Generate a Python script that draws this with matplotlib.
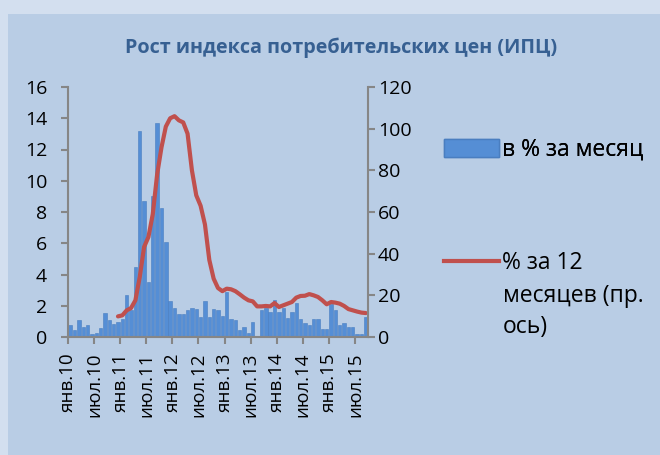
import matplotlib.pyplot as plt
from matplotlib.patches import Rectangle
from matplotlib.lines import Line2D

plt.rcParams['font.family'] = ['Open Sans', 'DejaVu Sans']

# в % за месяц, янв.10 ... сен.15
mes_2010 = [0.75, 0.43, 1.1, 0.64, 0.75, 0.17, 0.26, 0.55, 1.56, 1.1, 0.85, 0.96]
mes_2011 = [1.17, 2.7, 1.7, 4.5, 13.2, 8.7, 3.5, 9.0, 13.7, 8.25, 6.1, 2.3]
mes_2012 = [1.88, 1.5, 1.5, 1.7, 1.88, 1.8, 1.28, 2.3, 1.28, 1.8, 1.7, 1.36]
mes_2013 = [2.9, 1.15, 1.07, 0.47, 0.64, 0.26, 0.96, 0.09, 1.7, 1.85, 1.58, 2.35]
mes_2014 = [1.58, 1.85, 1.24, 1.58, 2.17, 1.15, 0.87, 0.75, 1.15, 1.15, 0.53, 0.53]
mes_2015 = [2.1, 1.7, 0.75, 0.87, 0.64, 0.64, 0.17, 0.17, 1.28]
mensal = mes_2010 + mes_2011 + mes_2012 + mes_2013 + mes_2014 + mes_2015

# % за 12 месяцев, дек.10 ... сен.15
ano_2010 = [9.9]
ano_2011 = [10.4, 12.8, 13.9, 17.6, 28.8, 43.2, 48, 59, 78, 91, 101, 105]
ano_2012 = [106, 104, 103, 97.6, 80, 68, 63, 54, 37, 28, 23.5, 22]
ano_2013 = [23.2, 22.9, 22, 20.5, 18.9, 17.6, 17.1, 14.7, 14.7, 14.9, 14.7, 16.3]
ano_2014 = [14.4, 15.2, 16, 16.8, 18.9, 19.7, 19.8, 20.6, 20, 19.2, 17.6, 15.7]
ano_2015 = [16.8, 16.5, 16, 14.9, 13.4, 12.8, 12.2, 11.7, 11.5]
anual = ano_2010 + ano_2011 + ano_2012 + ano_2013 + ano_2014 + ano_2015

rotulos = ['янв.10', 'июл.10', 'янв.11', 'июл.11', 'янв.12', 'июл.12',
           'янв.13', 'июл.13', 'янв.14', 'июл.14', 'янв.15', 'июл.15']

cor_barra = '#558ED5'
cor_linha = '#C0504D'
cinza = '#868686'

fig = plt.figure(figsize=(6.6, 4.55), dpi=100, facecolor='#D3DFEF')
fig.add_artist(Rectangle((8 / 660, 0), 1, 1 - 14 / 455, transform=fig.transFigure,
                         facecolor='#B9CDE5', edgecolor='none', zorder=0))

ax = fig.add_axes([68 / 660, 118 / 455, 300 / 660, 250 / 455])
ax.set_facecolor('none')
x_mes = list(range(len(mensal)))
ax.bar(x_mes, mensal, width=0.78, color=cor_barra, edgecolor='#4A7EC0', linewidth=0.4)
ax.set_xlim(-0.5, len(mensal) - 0.5)
ax.set_ylim(0, 16)
ax.set_yticks(range(0, 17, 2))
ax.set_xticks([i * 6 - 0.5 for i in range(len(rotulos))])
ax.set_xticklabels(rotulos, rotation=90, fontsize=13.5)

ax2 = ax.twinx()
x_ano = list(range(len(mensal) - len(anual), len(mensal)))
ax2.plot(x_ano, anual, color=cor_linha, linewidth=3, solid_capstyle='round')
ax2.set_ylim(0, 120)
ax2.set_yticks(range(0, 121, 20))

for a in (ax, ax2):
    for s in a.spines.values():
        s.set_visible(False)
ax.spines['left'].set_visible(True)
ax.spines['bottom'].set_visible(True)
ax2.spines['right'].set_visible(True)
for s in (ax.spines['left'], ax.spines['bottom'], ax2.spines['right']):
    s.set_color(cinza)
    s.set_linewidth(1.5)

ax.tick_params(axis='y', direction='out', length=5, width=1.5, color=cinza, labelsize=14, pad=10)
ax.tick_params(axis='x', direction='out', length=5, width=1.5, color=cinza, pad=6)
ax2.tick_params(axis='y', direction='out', length=5, width=1.5, color=cinza, labelsize=14, pad=2)

fig.text(341 / 660, 1 - 48 / 455, 'Рост индекса потребительских цен (ИПЦ)',
         ha='center', va='center', fontsize=14.2, fontweight='bold', color='#376092')

# легенда
tam = 16.5
h_barra = Rectangle((0, 0), 1, 1, facecolor=cor_barra, edgecolor='#4A7EC0')
h_linha = Line2D([], [], color=cor_linha, linewidth=3)
leg1 = fig.legend([h_barra], ['в % за месяц'], loc='center left',
                  bbox_to_anchor=(444 / 660, 1 - 150 / 455), frameon=False,
                  borderpad=0, borderaxespad=0,
                  fontsize=tam, handlelength=2.4, handleheight=0.8, handletextpad=0.15)
leg2 = fig.legend([h_linha], ['% за 12'], loc='center left',
                  bbox_to_anchor=(444 / 660, 1 - 263 / 455), frameon=False,
                  borderpad=0, borderaxespad=0,
                  fontsize=tam, handlelength=2.4, handletextpad=0.15)
fig.add_artist(leg1)
fig.text(503 / 660, 1 - 296 / 455, 'месяцев (пр.', ha='left', va='center', fontsize=tam)
fig.text(503 / 660, 1 - 327 / 455, 'ось)', ha='left', va='center', fontsize=tam)

plt.savefig('out.png', dpi=100, facecolor=fig.get_facecolor())
